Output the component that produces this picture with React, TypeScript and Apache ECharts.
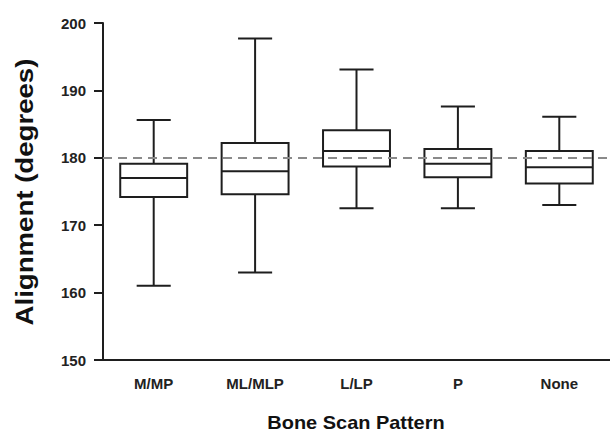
import React, { useEffect, useRef } from "react";
import * as echarts from "echarts";

const categories = ["M/MP", "ML/MLP", "L/LP", "P", "None"];
// [min, q1, median, q3, max]
const minValues = [161, 163, 172.5, 172.5, 173];
const q1Values = [174.2, 174.6, 178.7, 177.1, 176.2];
const medianValues = [177, 178, 181, 179.1, 178.6];
const q3Values = [179.1, 182.2, 184.1, 181.3, 181];
const maxValues = [185.6, 197.7, 193.1, 187.6, 186.1];
const referenceValue = 180;
const yTicks = { min: 150, max: 200, interval: 10 };

const FONT = "'Liberation Sans', Arial, sans-serif";
const INK = "#1e1e1e";

export default function App() {
  const ref = useRef<HTMLDivElement>(null);
  useEffect(() => {
    document.body.style.margin = "0";
    if (!ref.current) return;
    const chart = echarts.init(ref.current, null, { renderer: "svg" });
    const data = categories.map((_, i) => [
      i,
      minValues[i],
      q1Values[i],
      medianValues[i],
      q3Values[i],
      maxValues[i],
    ]);
    chart.setOption({
      animation: false,
      backgroundColor: "#ffffff",
      grid: { left: 103, right: 0, top: 23, bottom: 72 },
      xAxis: {
        type: "category",
        data: categories,
        boundaryGap: true,
        axisLine: { lineStyle: { color: INK, width: 2 } },
        axisTick: { alignWithLabel: true, length: 10, lineStyle: { color: INK, width: 2 } },
        axisLabel: {
          color: "#222",
          fontFamily: FONT,
          fontWeight: "bold",
          fontSize: 15,
          margin: 16,
        },
        splitLine: { show: false },
      },
      yAxis: {
        type: "value",
        min: yTicks.min,
        max: yTicks.max,
        interval: yTicks.interval,
        axisLine: { show: true, lineStyle: { color: INK, width: 2 } },
        axisTick: { show: true, length: 9, lineStyle: { color: INK, width: 2 } },
        axisLabel: {
          color: "#222",
          fontFamily: FONT,
          fontWeight: "bold",
          fontSize: 15,
          margin: 17,
        },
        splitLine: { show: false },
      },
      graphic: [
        {
          type: "text",
          x: 25,
          y: 192,
          rotation: Math.PI / 2,
          scaleX: 1.15,
          style: {
            text: "Alignment (degrees)",
            font: `bold 24px ${FONT}`,
            fill: "#111",
            align: "center",
            verticalAlign: "middle",
          },
        },
        {
          type: "text",
          x: 356,
          y: 422,
          scaleX: 1.05,
          style: {
            text: "Bone Scan Pattern",
            font: `bold 19px ${FONT}`,
            fill: "#111",
            align: "center",
            verticalAlign: "middle",
          },
        },
      ],
      series: [
        {
          type: "custom",
          data,
          encode: { x: 0, y: [1, 2, 3, 4, 5] },
          renderItem: (params: any, api: any) => {
            const idx = api.value(0);
            const vMin = api.value(1);
            const vQ1 = api.value(2);
            const vMed = api.value(3);
            const vQ3 = api.value(4);
            const vMax = api.value(5);
            const band = api.size([1, 0])[0];
            const half = band * 0.33;
            const capHalf = band * 0.168;
            const pMin = api.coord([idx, vMin]);
            const pQ1 = api.coord([idx, vQ1]);
            const pMed = api.coord([idx, vMed]);
            const pQ3 = api.coord([idx, vQ3]);
            const pMax = api.coord([idx, vMax]);
            const cx = pMed[0];
            const ls = { stroke: INK, lineWidth: 2, fill: "none" };
            return {
              type: "group",
              children: [
                { type: "line", shape: { x1: cx, y1: pQ3[1], x2: cx, y2: pMax[1] }, style: ls },
                { type: "line", shape: { x1: cx, y1: pQ1[1], x2: cx, y2: pMin[1] }, style: ls },
                { type: "line", shape: { x1: cx - capHalf, y1: pMax[1], x2: cx + capHalf, y2: pMax[1] }, style: ls },
                { type: "line", shape: { x1: cx - capHalf, y1: pMin[1], x2: cx + capHalf, y2: pMin[1] }, style: ls },
                {
                  type: "rect",
                  shape: { x: cx - half, y: pQ3[1], width: half * 2, height: pQ1[1] - pQ3[1] },
                  style: { stroke: INK, lineWidth: 2, fill: "rgba(255,255,255,0)" },
                },
                { type: "line", shape: { x1: cx - half, y1: pMed[1], x2: cx + half, y2: pMed[1] }, style: ls },
              ],
            };
          },
          markLine: {
            silent: true,
            symbol: "none",
            label: { show: false },
            lineStyle: { color: "#8a8a8a", width: 2, type: [9, 6] },
            data: [{ yAxis: referenceValue }],
          },
          z: 3,
        },
      ],
    });
    return () => chart.dispose();
  }, []);
  return <div ref={ref} style={{ width: 610, height: 432 }} />;
}
